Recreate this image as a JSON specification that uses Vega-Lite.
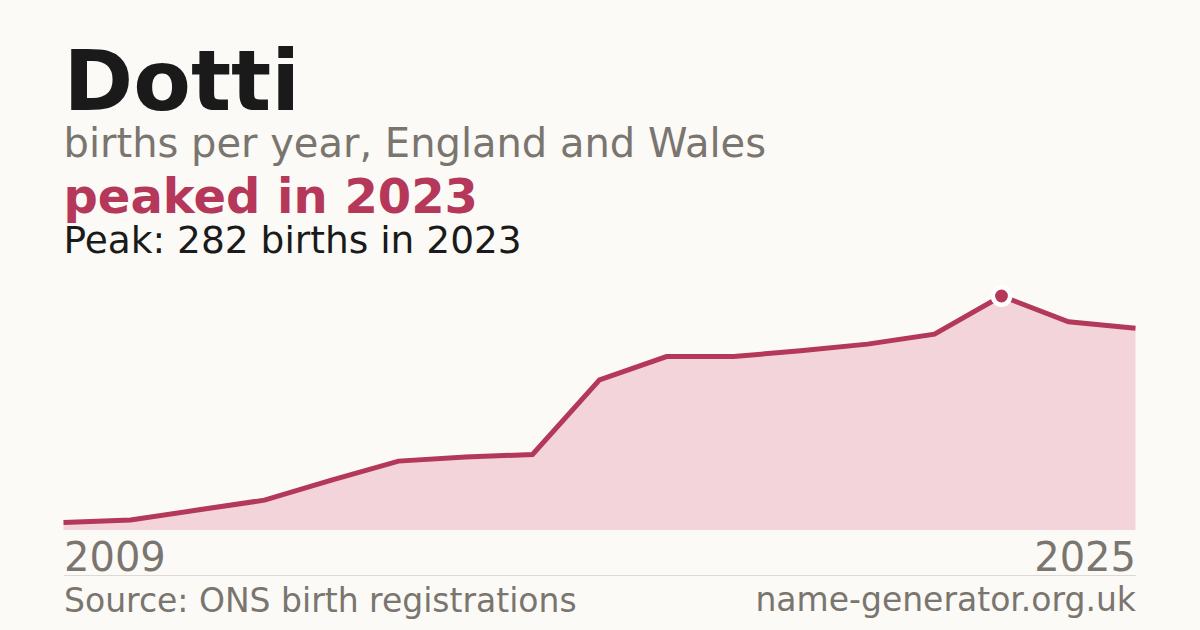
{
  "$schema": "https://vega.github.io/schema/vega-lite/v6.json",
  "background": "#fbfaf6",
  "padding": {"left": 53.5, "top": 43, "right": 55, "bottom": 16},
  "data": {
    "values": [
      {"year": 2009, "births": 9},
      {"year": 2010, "births": 12},
      {"year": 2011, "births": 24},
      {"year": 2012, "births": 36},
      {"year": 2013, "births": 60},
      {"year": 2014, "births": 83},
      {"year": 2015, "births": 88},
      {"year": 2016, "births": 91},
      {"year": 2017, "births": 181},
      {"year": 2018, "births": 209},
      {"year": 2019, "births": 209},
      {"year": 2020, "births": 216},
      {"year": 2021, "births": 224},
      {"year": 2022, "births": 236},
      {"year": 2023, "births": 282},
      {"year": 2024, "births": 251},
      {"year": 2025, "births": 243}
    ]
  },
  "title": {
    "text": "Dotti",
    "subtitle": "births per year, England and Wales",
    "anchor": "start",
    "frame": "group",
    "fontSize": 84,
    "fontWeight": "bold",
    "color": "#1a1a1a",
    "subtitleFontSize": 40,
    "subtitleColor": "#7a756e",
    "subtitlePadding": -3,
    "offset": 9
  },
  "vconcat": [
    {
      "title": {
        "text": "name-generator.org.uk",
        "orient": "bottom",
        "anchor": "end",
        "frame": "bounds",
        "dx": -9.5,
        "fontSize": 33,
        "fontWeight": "normal",
        "color": "#7a756e",
        "offset": -33
      },
      "vconcat": [
        {
          "width": 1072,
          "height": 234,
          "title": {
            "text": "peaked in 2023",
            "subtitle": "Peak: 282 births in 2023",
            "anchor": "start",
            "frame": "group",
            "fontSize": 48,
            "fontWeight": "bold",
            "color": "#b5385a",
            "subtitleFontSize": 37.5,
            "subtitleColor": "#1a1a1a",
            "subtitlePadding": 0,
            "offset": 17.5
          },
          "encoding": {
            "x": {
              "field": "year",
              "type": "quantitative",
              "scale": {"domain": [2009, 2025], "nice": false, "zero": false},
              "axis": {
                "values": [2009, 2025],
                "format": "d",
                "labelFlush": true,
                "labelFontSize": 40,
                "labelColor": "#7a756e",
                "labelBaseline": "alphabetic",
                "labelPadding": -5,
                "ticks": false,
                "tickSize": 0,
                "grid": false,
                "domainColor": "#dedad3",
                "domainWidth": 1,
                "offset": 45,
                "title": "Source: ONS birth registrations",
                "titleFontSize": 33,
                "titleFontWeight": "normal",
                "titleColor": "#7a756e",
                "titleAnchor": "start",
                "titleAlign": "left",
                "titlePadding": 7
              }
            },
            "y": {
              "field": "births",
              "type": "quantitative",
              "scale": {"domain": [0, 282], "nice": false},
              "axis": null
            }
          },
          "layer": [
            {"mark": {"type": "area", "color": "#f2d4da", "opacity": 1}},
            {"mark": {"type": "line", "color": "#b3385a", "strokeWidth": 5}},
            {
              "transform": [{"filter": "datum.year == 2023"}],
              "mark": {
                "type": "circle",
                "size": 300,
                "color": "#b3385a",
                "opacity": 1,
                "stroke": "#ffffff",
                "strokeWidth": 4.5
              }
            }
          ]
        }
      ]
    }
  ],
  "config": {
    "font": "DejaVu Sans",
    "view": {"stroke": null},
    "title": {"font": "DejaVu Sans", "subtitleFont": "DejaVu Sans"},
    "axis": {"labelFont": "DejaVu Sans", "titleFont": "DejaVu Sans"}
  }
}
